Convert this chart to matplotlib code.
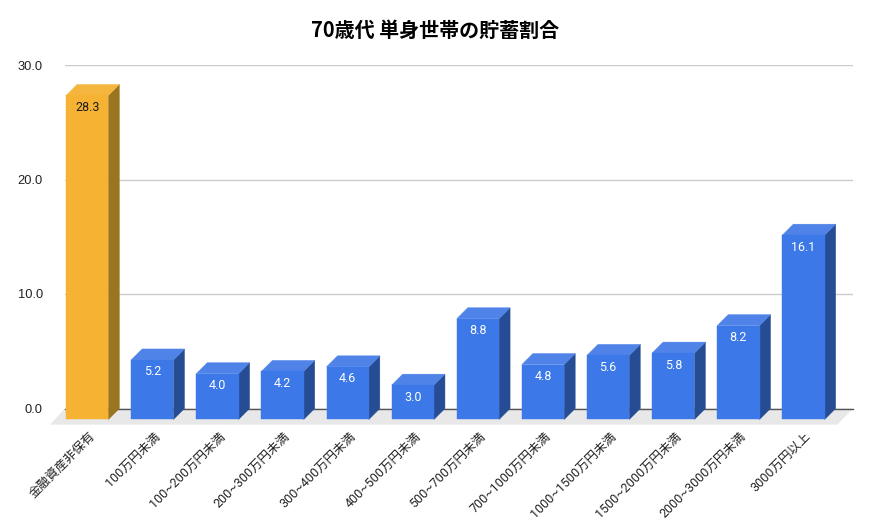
import matplotlib
matplotlib.use("Agg")
import matplotlib.pyplot as plt

plt.rcParams['font.family'] = ['Noto Sans CJK JP', 'DejaVu Sans']

categories = ["金融資産非保有", "100万円未満", "100~200万円未満", "200~300万円未満",
              "300~400万円未満", "400~500万円未満", "500~700万円未満", "700~1000万円未満",
              "1000~1500万円未満", "1500~2000万円未満", "2000~3000万円未満", "3000万円以上"]
values = [28.3, 5.2, 4.0, 4.2, 4.6, 3.0, 8.8, 4.8, 5.6, 5.8, 8.2, 16.1]
y_ticks = [0, 10, 20, 30]

W, H = 870, 527
fig = plt.figure(figsize=(W / 100, H / 100), dpi=100)
ax = fig.add_axes([65 / W, 1 - 408.5 / H, 788 / W, 343.5 / H])
ax.set_xlim(-0.341, 11.76)
ax.set_ylim(0, 30)
for s in ax.spines.values():
    s.set_visible(False)
ax.set_xticks([])

# 3d look: depth of the bars in data units (about 11 px each way)
depth_x = 11 / 65.1
depth_y = 0.96
half = 0.325

# floor
ax.fill([-0.571, -0.341, 11.76, 11.52], [-1.41, 0, 0, -1.41], color="#e8e8e8", lw=0, clip_on=False, zorder=1)

ax.set_yticks(y_ticks)
ax.set_yticklabels([f"{t:.1f}" for t in y_ticks], family=['Liberation Sans'], fontsize=9.3, color="#222222")
ax.tick_params(axis='y', length=0, pad=16)
ax.grid(axis='y', color="#cccccc", linewidth=1)
ax.set_axisbelow(True)
ax.plot([-0.341, 11.76], [0, 0], color="#555555", linewidth=1, zorder=1.5, clip_on=False)

for i, v in enumerate(values):
    if i == 0:
        front, side, top, text_col = "#f6b333", "#9a741f", "#f5b640", "#1a1a1a"
    else:
        front, side, top, text_col = "#3c78e8", "#264d93", "#4f83e8", "white"
    left, right = i - half, i + half
    ax.fill([right, right + depth_x, right + depth_x, right],
            [-depth_y, 0, v, v - depth_y], facecolor=side, edgecolor=side, lw=0.3, clip_on=False, zorder=3)
    ax.fill([left, right, right + depth_x, left + depth_x],
            [v - depth_y, v - depth_y, v, v], facecolor=top, edgecolor=top, lw=0.3, clip_on=False, zorder=3)
    ax.fill([left, right, right, left], [-depth_y, -depth_y, v - depth_y, v - depth_y],
            facecolor=front, edgecolor=front, lw=0.3, clip_on=False, zorder=3)
    ax.annotate(f"{v:.1f}", (i, v - depth_y), xytext=(0, -12), textcoords='offset pixels',
                ha='center', va='center', fontsize=9, color=text_col,
                family=['Roboto'], zorder=4)
    ax.annotate(categories[i], (i, 0), xytext=(1, -21), textcoords='offset pixels',
                ha='right', va='top', rotation=45, rotation_mode='anchor',
                fontsize=9, color="#222222", annotation_clip=False,
                family=['Roboto', 'Noto Sans CJK JP'])

fig.text(435.5 / W, 1 - 30 / H, "70歳代 単身世帯の貯蓄割合", ha='center', va='center',
         fontsize=14.4, fontweight='bold', color="black")

fig.savefig("out.png", dpi=100)
